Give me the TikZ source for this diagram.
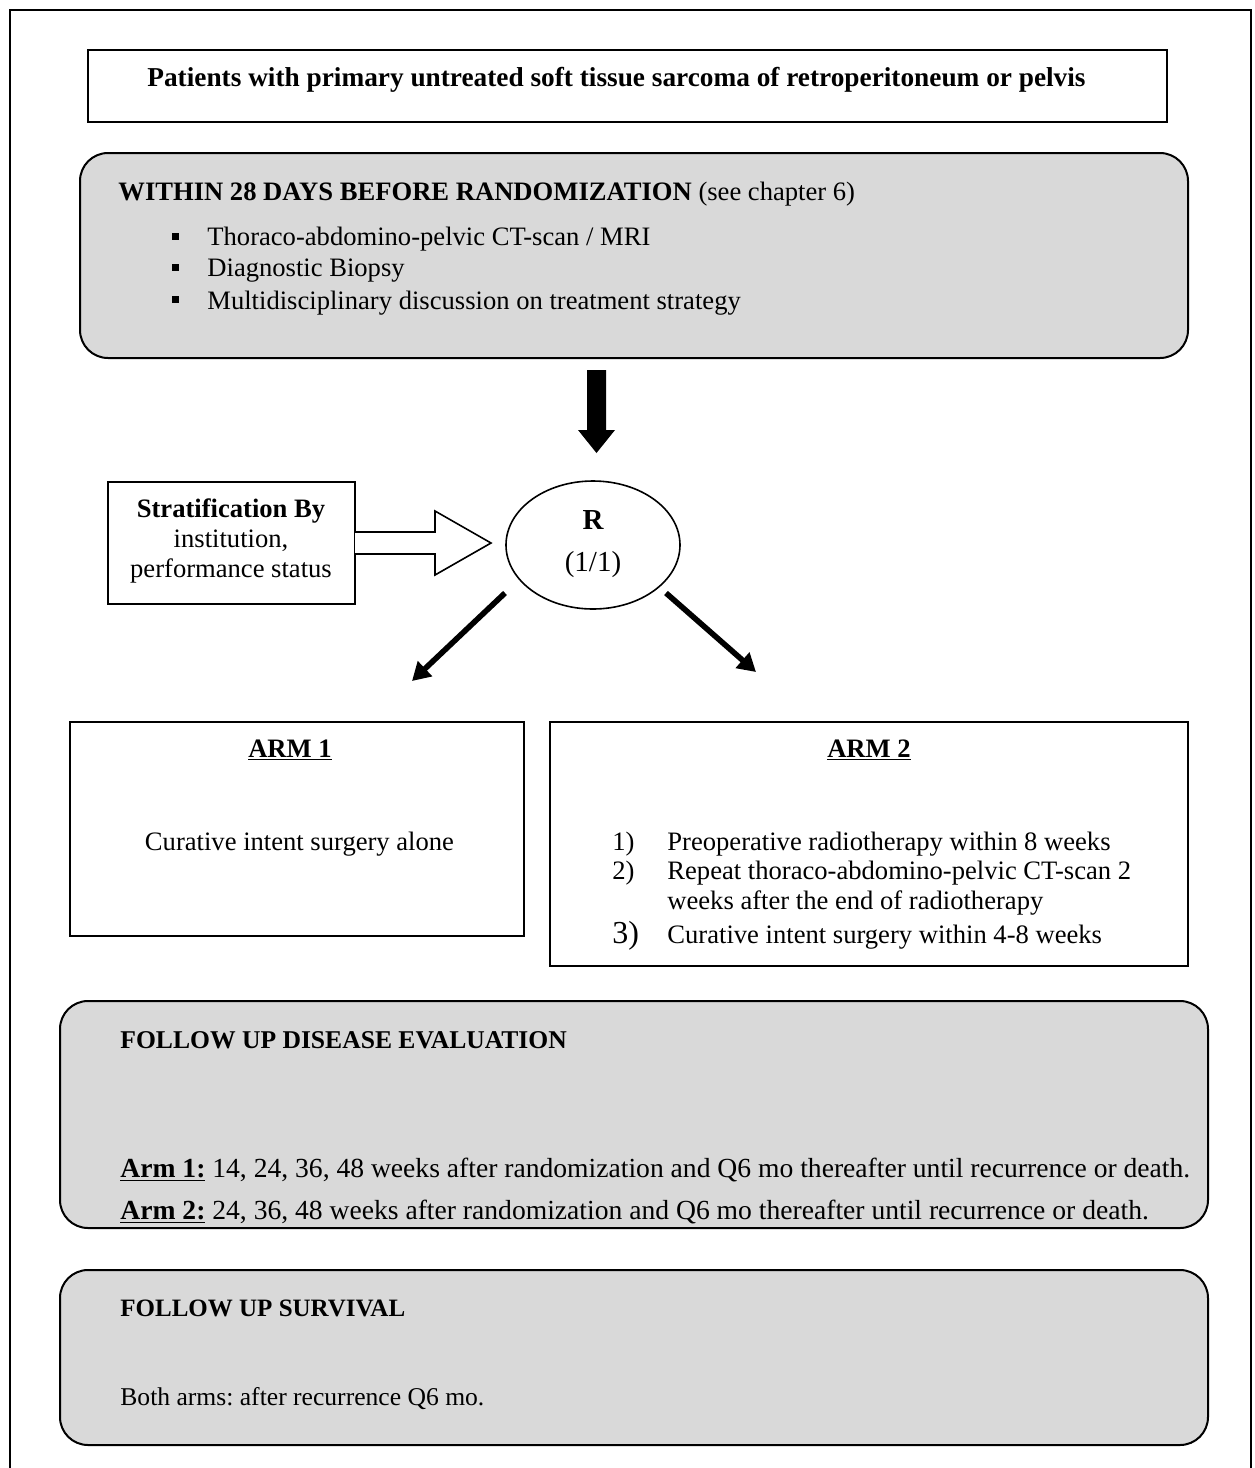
\documentclass[tikz,border=0pt]{standalone}
\usepackage{fontspec}
\setmainfont{Liberation Serif}
\usetikzlibrary{shapes.geometric,arrows.meta}
\definecolor{boxgray}{RGB}{217,217,217}
\frenchspacing
\begin{document}
\begin{tikzpicture}[x=0.5pt,y=-0.5pt,
  font=\fontsize{13.3}{16}\selectfont,
  plainbox/.style={draw, line width=1pt, fill=white, inner sep=0pt},
  graybox/.style={draw, line width=1pt, fill=boxgray, rounded corners=14pt, inner sep=0pt},
  txt/.style={inner sep=0pt, anchor=base west},
  ctxt/.style={inner sep=0pt, anchor=base},
  bul/.style={fill=black, inner sep=0pt, minimum size=3.5pt},
  diag/.style={line width=2.8pt, -{Triangle[length=9pt,width=10pt]}}
]
\useasboundingbox (0,0) rectangle (1254,1468);
% outer frame (open at bottom)
\draw[line width=1pt] (10,1468) -- (10,10) -- (1251,10) -- (1251,1468);

% top box
\node[plainbox, minimum width=539.5pt, minimum height=36pt] (top) at (627.5,86) {};
\node[ctxt, font=\fontsize{13.65}{16}\selectfont\bfseries] (toptxt) at (616.5,86)
  {Patients with primary untreated soft tissue sarcoma of retroperitoneum or pelvis};

% within 28 days box
\node[graybox, minimum width=554pt, minimum height=102.5pt] (within) at (634,255.5) {};
\node[txt] (withinhead) at (118,200) {\textbf{WITHIN 28 DAYS BEFORE RANDOMIZATION} (see chapter 6)};
\node[bul] (b1) at (175,236) {};
\node[bul] (b2) at (175,267) {};
\node[bul] (b3) at (175,299) {};
\node[txt] (t1) at (207,245) {Thoraco-abdomino-pelvic CT-scan / MRI};
\node[txt] (t2) at (207,276) {Diagnostic Biopsy};
\node[txt] (t3) at (207,309) {Multidisciplinary discussion on treatment strategy};

% big black arrow
\coordinate (ba1) at (587,370);
\coordinate (ba2) at (606,370);
\coordinate (ba3) at (606,430);
\coordinate (ba4) at (615,430);
\coordinate (batip) at (596.5,453);
\coordinate (ba5) at (578,430);
\coordinate (ba6) at (587,430);
\fill (ba1) -- (ba2) -- (ba3) -- (ba4) -- (batip) -- (ba5) -- (ba6) -- cycle;

% stratification box
\node[plainbox, minimum width=123.5pt, minimum height=61pt] (strat) at (231.5,543) {};
\node[ctxt, font=\fontsize{13.3}{16}\selectfont\bfseries] (s1) at (231,517) {Stratification By};
\node[ctxt] (s2) at (231,547) {institution,};
\node[ctxt] (s3) at (231,577) {performance status};

% hollow arrow
\coordinate (ha1) at (355,532);
\coordinate (ha2) at (435,532);
\coordinate (ha3) at (435,511);
\coordinate (hatip) at (491,543);
\coordinate (ha4) at (435,575);
\coordinate (ha5) at (435,554);
\coordinate (ha6) at (355,554);
\fill[white] (ha1) -- (ha2) -- (ha3) -- (hatip) -- (ha4) -- (ha5) -- (ha6) -- cycle;
\draw[line width=0.8pt] (ha1) -- (ha2) -- (ha3) -- (hatip) -- (ha4) -- (ha5) -- (ha6);

% R ellipse
\node[draw, ellipse, line width=0.8pt, minimum width=87pt, minimum height=64pt, inner sep=0pt] (R) at (593,545) {};
\node[ctxt, font=\fontsize{14.5}{16}\selectfont\bfseries] (Rt) at (593,529) {R};
\node[ctxt, font=\fontsize{14.5}{16}\selectfont] (Rr) at (593,571) {(1/1)};

% diagonal arrows
\coordinate (la0) at (505,593);
\coordinate (la1) at (412,681);
\coordinate (ra0) at (666,593);
\coordinate (ra1) at (756,672);
\draw[diag] (la0) -- (la1);
\draw[diag] (ra0) -- (ra1);

% arm boxes
\node[plainbox, minimum width=227pt, minimum height=107pt] (arm1) at (297,829) {};
\node[ctxt, font=\fontsize{13.3}{16}\selectfont\bfseries] (arm1h) at (290,757) {\underline{ARM 1}};
\node[ctxt] (arm1t) at (299.5,850) {Curative intent surgery alone};

\node[plainbox, minimum width=319pt, minimum height=122pt] (arm2) at (869,844) {};
\node[ctxt, font=\fontsize{13.3}{16}\selectfont\bfseries] (arm2h) at (869,757) {\underline{ARM 2}};
\node[txt] (n1) at (612,850) {1)};
\node[txt] (i1) at (667,850) {Preoperative radiotherapy within 8 weeks};
\node[txt] (n2) at (612,879) {2)};
\node[txt] (i2) at (667,879) {Repeat thoraco-abdomino-pelvic CT-scan 2};
\node[txt] (i2b) at (667,909) {weeks after the end of radiotherapy};
\node[txt, font=\fontsize{16}{18}\selectfont] (n3) at (612,943) {3)};
\node[txt] (i3) at (667,943) {Curative intent surgery within 4-8 weeks};

% follow up disease evaluation
\node[graybox, minimum width=574pt, minimum height=113.5pt] (fu1) at (634,1114.5) {};
\node[txt, font=\fontsize{12.8}{16}\selectfont\bfseries] (fu1h) at (120,1048) {FOLLOW UP DISEASE EVALUATION};
\node[txt, font=\fontsize{13.8}{16}\selectfont] (fa1) at (120,1177) {\textbf{\underline{Arm 1:}} 14, 24, 36, 48 weeks after randomization and Q6 mo thereafter until recurrence or death.};
\node[txt, font=\fontsize{13.8}{16}\selectfont] (fa2) at (120,1219) {\textbf{\underline{Arm 2:}} 24, 36, 48 weeks after randomization and Q6 mo thereafter until recurrence or death.};

% follow up survival
\node[graybox, minimum width=574pt, minimum height=87.5pt] (fu2) at (634,1357.5) {};
\node[txt, font=\fontsize{12.5}{16}\selectfont\bfseries] (fu2h) at (120,1316) {FOLLOW UP SURVIVAL};
\node[txt, font=\fontsize{12.8}{16}\selectfont] (fu2t) at (120,1405) {Both arms: after recurrence Q6 mo.};
\end{tikzpicture}
\end{document}
